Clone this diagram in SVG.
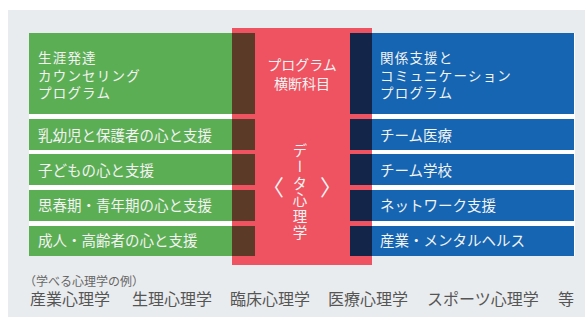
<svg xmlns="http://www.w3.org/2000/svg" width="585" height="320" viewBox="0 0 585 320">
<style>
.t{font-family:"Noto Sans CJK JP","Noto Sans CJK SC",sans-serif;fill:#f3f3f3;font-size:14.5px;}
.m{font-size:13.5px;letter-spacing:1.2px}
.g{fill:#5cae55}
.b{fill:#1565b2}
.br{fill:#5b3a27}
.nv{fill:#14254a}
.ft{font-family:"Noto Sans CJK JP","Noto Sans CJK SC",sans-serif;fill:#555;font-size:16px;}
</style>
<rect x="0" y="0" width="585" height="320" fill="#ffffff"/>
<rect x="8" y="10" width="577" height="307" fill="#e9ecee"/>
<rect x="29" y="33" width="546" height="223" fill="#ffffff"/>
<g id="green">
<g id="g0"><rect class="g" x="29" y="33" width="226" height="81"/>
<text class="t m" x="38" y="63">生涯発達</text><text class="t m" x="38" y="80.5">カウンセリング</text><text class="t m" x="38" y="98">プログラム</text></g>
<g id="g1"><rect class="g" x="29" y="119" width="226" height="31"/><text class="t" x="38" y="141">乳幼児と保護者の心と支援</text></g>
<g id="g2"><rect class="g" x="29" y="154" width="226" height="31"/><text class="t" x="38" y="176">子どもの心と支援</text></g>
<g id="g3"><rect class="g" x="29" y="190" width="226" height="31"/><text class="t" x="38" y="211">思春期・青年期の心と支援</text></g>
<g id="g4"><rect class="g" x="29" y="226" width="226" height="30"/><text class="t" x="38" y="246">成人・高齢者の心と支援</text></g>
</g>
<g id="blue">
<g id="b0"><rect class="b" x="350" y="33" width="224" height="81"/>
<text class="t m" x="380" y="63">関係支援と</text><text class="t m" x="380" y="80.5">コミュニケーション</text><text class="t m" x="380" y="98">プログラム</text></g>
<g id="b1"><rect class="b" x="350" y="119" width="224" height="31"/><text class="t" x="380" y="141">チーム医療</text></g>
<g id="b2"><rect class="b" x="350" y="154" width="224" height="31"/><text class="t" x="380" y="176">チーム学校</text></g>
<g id="b3"><rect class="b" x="350" y="190" width="224" height="31"/><text class="t" x="380" y="211">ネットワーク支援</text></g>
<g id="b4"><rect class="b" x="350" y="226" width="224" height="30"/><text class="t" x="380" y="246">産業・メンタルヘルス</text></g>
</g>
<g id="cross">
<rect x="232" y="28" width="140" height="237" fill="#ef5361"/>
<rect class="br" x="232" y="33" width="23" height="81"/>
<rect class="br" x="232" y="119" width="23" height="31"/>
<rect class="br" x="232" y="154" width="23" height="31"/>
<rect class="br" x="232" y="190" width="23" height="31"/>
<rect class="br" x="232" y="226" width="23" height="30"/>
<rect class="nv" x="350" y="33" width="22" height="81"/>
<rect class="nv" x="350" y="119" width="22" height="31"/>
<rect class="nv" x="350" y="154" width="22" height="31"/>
<rect class="nv" x="350" y="190" width="22" height="31"/>
<rect class="nv" x="350" y="226" width="22" height="30"/>
<text class="t" x="302" y="70" text-anchor="middle" style="font-size:14px">プログラム</text>
<text class="t" x="302" y="89" text-anchor="middle" style="font-size:14px">横断科目</text>
<text class="t" x="300" y="143" style="writing-mode:vertical-rl;font-size:14.5px;letter-spacing:2px">データ心理学</text>
<text class="t" x="273" y="195" text-anchor="middle" style="font-size:22px">〈</text>
<text class="t" x="331" y="195" text-anchor="middle" style="font-size:22px">〉</text>
</g>
<g id="footer">
<text class="ft" x="24" y="286" style="font-size:12px;fill:#666">（学べる心理学の例）</text>
<text class="ft" x="30" y="305">産業心理学</text>
<text class="ft" x="132" y="305">生理心理学</text>
<text class="ft" x="230" y="305">臨床心理学</text>
<text class="ft" x="328" y="305">医療心理学</text>
<text class="ft" x="427" y="305">スポーツ心理学</text>
<text class="ft" x="558" y="305">等</text>
</g>
</svg>
